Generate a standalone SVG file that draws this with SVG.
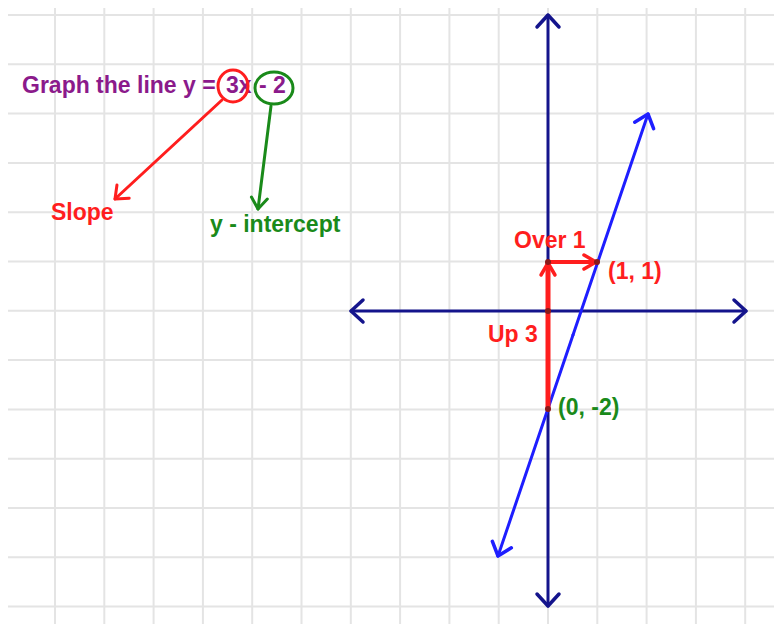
<svg xmlns="http://www.w3.org/2000/svg" width="774" height="624" viewBox="0 0 774 624">
<style>
.grid{stroke:#e4e4e4;stroke-width:2;fill:none}
.t{font-family:"Liberation Sans",Arial,sans-serif;font-weight:bold;font-size:23px}
.axis{stroke:#14148c;stroke-width:3;fill:none;stroke-linecap:round}
.blue{stroke:#1e1eff;stroke-width:3;fill:none;stroke-linecap:round}
.red{stroke:#ff1e1e;fill:none;stroke-linecap:round;stroke-linejoin:round}
.green{stroke:#1a8a1a;fill:none;stroke-linecap:round;stroke-linejoin:round}
.dot{fill:#8a1a1a}
</style>
<defs>
<marker id="mNavy" markerUnits="userSpaceOnUse" viewBox="-14 -12 16 24" markerWidth="16" markerHeight="24" refX="0" refY="0" orient="auto" overflow="visible"><path d="M-12,-11 L0,0 L-12,11" fill="none" stroke="#14148c" stroke-width="3.5" stroke-linecap="round" stroke-linejoin="round"/></marker>
<marker id="mBlue" markerUnits="userSpaceOnUse" viewBox="-14 -12 16 24" markerWidth="16" markerHeight="24" refX="0" refY="0" orient="auto" overflow="visible"><path d="M-12,-10 L0,0 L-12,10" fill="none" stroke="#1e1eff" stroke-width="3.5" stroke-linecap="round" stroke-linejoin="round"/></marker>
<marker id="mRed" markerUnits="userSpaceOnUse" viewBox="-14 -12 16 24" markerWidth="16" markerHeight="24" refX="0" refY="0" orient="auto" overflow="visible"><path d="M-11,-9 L0,0 L-11,9" fill="none" stroke="#ff1e1e" stroke-width="3" stroke-linecap="round" stroke-linejoin="round"/></marker>
<marker id="mRedF" markerUnits="userSpaceOnUse" viewBox="-14 -12 16 24" markerWidth="16" markerHeight="24" refX="0" refY="0" orient="auto" overflow="visible"><path d="M-12,-7 L0,0 L-12,7" fill="none" stroke="#ff1e1e" stroke-width="3.5" stroke-linecap="round" stroke-linejoin="round"/></marker>
<marker id="mGreen" markerUnits="userSpaceOnUse" viewBox="-14 -12 16 24" markerWidth="16" markerHeight="24" refX="0" refY="0" orient="auto" overflow="visible"><path d="M-11,-8 L0,0 L-11,8" fill="none" stroke="#1a8a1a" stroke-width="3" stroke-linecap="round" stroke-linejoin="round"/></marker>
</defs>
<rect width="774" height="624" fill="#ffffff"/>
<g id="grid" class="grid">
<path d="M55,8V624M104.3,8V624M153.6,8V624M202.9,8V624M252.2,8V624M301.5,8V624M350.8,8V624M400.1,8V624M449.4,8V624M498.7,8V624M548,8V624M597.3,8V624M646.6,8V624M695.9,8V624M745.2,8V624"/>
<path d="M8,15H774M8,64.3H774M8,113.6H774M8,162.9H774M8,212.2H774M8,261.5H774M8,310.8H774M8,360.1H774M8,409.4H774M8,458.7H774M8,508H774M8,557.3H774M8,606.6H774"/>
</g>
<g id="axes">
<line class="axis" x1="548" y1="311" x2="351" y2="311" marker-end="url(#mNavy)"/>
<line class="axis" x1="548" y1="311" x2="746" y2="311" marker-end="url(#mNavy)"/>
<line class="axis" x1="548" y1="311" x2="548" y2="15" marker-end="url(#mNavy)"/>
<line class="axis" x1="548" y1="311" x2="548" y2="606" marker-end="url(#mNavy)"/>
</g>
<g id="graph-line">
<line class="blue" x1="573" y1="335" x2="648" y2="114" marker-end="url(#mBlue)"/>
<line class="blue" x1="573" y1="335" x2="498" y2="556" marker-end="url(#mBlue)"/>
</g>
<g id="connectors">
<line class="red" stroke-width="5" x1="548" y1="409" x2="548" y2="263" marker-end="url(#mRedF)"/>
<line class="red" stroke-width="4" x1="548" y1="262" x2="596" y2="262" marker-end="url(#mRedF)"/>
<line class="red" stroke-width="3" x1="222" y1="100" x2="115" y2="199" marker-end="url(#mRed)"/>
<line class="green" stroke-width="3" x1="271" y1="106" x2="258" y2="209" marker-end="url(#mGreen)"/>
</g>
<g id="points">
<circle class="dot" cx="548" cy="262" r="3"/>
<circle class="dot" cx="548" cy="311" r="3"/>
<circle class="dot" cx="548" cy="409" r="3"/>
<circle class="dot" cx="597" cy="262" r="3"/>
</g>
<g id="title">
<text class="t" y="93" fill="#8b1a8b"><tspan x="22">Graph the line y =</tspan><tspan x="226">3x</tspan><tspan x="259">- 2</tspan></text>
<ellipse cx="233" cy="86" rx="15" ry="16" class="red" stroke-width="3"/>
<ellipse cx="274" cy="88" rx="19" ry="16" class="green" stroke-width="3"/>
</g>
<g id="slope-label"><text class="t" x="51" y="220" fill="#ff1e1e">Slope</text></g>
<g id="intercept-label"><text class="t" x="210" y="232" fill="#1a8a1a">y - intercept</text></g>
<g id="over-label"><text class="t" x="514" y="248" fill="#ff1e1e">Over 1</text></g>
<g id="point11-label"><text class="t" x="608" y="279" fill="#ff1e1e">(1, 1)</text></g>
<g id="up-label"><text class="t" x="488" y="342" fill="#ff1e1e">Up 3</text></g>
<g id="point02-label"><text class="t" x="558" y="415" fill="#1a8a1a">(0, -2)</text></g>
</svg>
